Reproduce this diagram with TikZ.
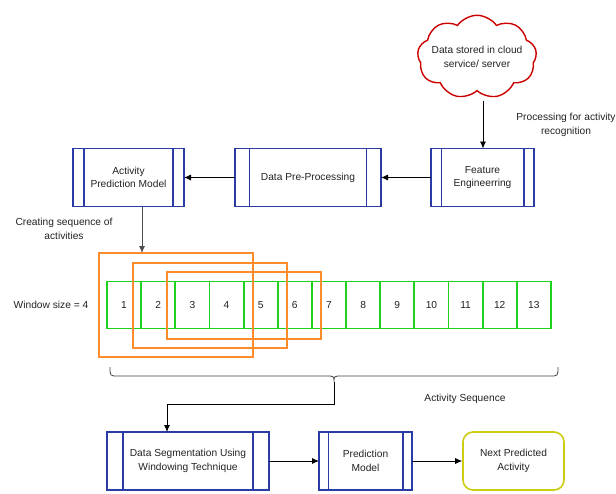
\documentclass[tikz,border=0pt]{standalone}
\usepackage{fontspec}
\setmainfont{Liberation Sans}
\usetikzlibrary{shapes.symbols,arrows.meta,calc}
\definecolor{boxblue}{HTML}{2B3BA6}
\definecolor{cellgreen}{HTML}{1ED21E}
\definecolor{winorange}{HTML}{FF8C2A}
\definecolor{cloudred}{HTML}{CC0000}
\definecolor{predyellow}{HTML}{CCCC11}
\definecolor{txt}{HTML}{222222}
\begin{document}
\begin{tikzpicture}[x=1pt,y=-1pt,
  every node/.style={font=\fontsize{10.2}{13.5}\selectfont, text=txt},
  procbox/.style={draw=boxblue, line width=1.6pt, rectangle, inner sep=0pt, outer sep=0pt, minimum height=58pt, align=center},
  cellbox/.style={draw=cellgreen, line width=1.9pt, rectangle, inner sep=0pt, outer sep=0pt, minimum width=34.15pt, minimum height=47pt},
  winbox/.style={draw=winorange, line width=1.4pt, rectangle, inner sep=0pt, outer sep=0pt},
  arr/.style={draw=black, line width=0.8pt, -{Latex[length=7pt,width=6pt]}},
  plain/.style={draw=black!75, line width=0.8pt},
  lbl/.style={align=center}]
\useasboundingbox (0,0) rectangle (616,493);

% cloud
\node[cloud, cloud puffs=9, cloud puff arc=110, aspect=1.7, draw=cloudred, line width=1.4pt,
      inner xsep=-5pt, inner ysep=-4.5pt, align=center] (cl) at (477,57)
      {Data stored in cloud\\service/ server};

% process boxes
\node[procbox, minimum width=103pt] (fe) at (482.5,177.5) {Feature\\Engineerring};
\node[procbox, minimum width=146pt] (dp) at (308,177.5) {Data Pre-Processing};
\node[procbox, minimum width=111pt] (apm) at (128.5,177.5) {Activity\\Prediction Model};
\node[procbox, minimum width=162pt] (ds) at (188,461) {Data Segmentation Using\\Windowing Technique};
\node[procbox, minimum width=93pt] (pm) at (365.5,461) {Prediction\\Model};
\node[draw=predyellow, line width=1.6pt, rounded corners=10pt, rectangle, inner sep=0pt,
      minimum width=101pt, minimum height=58pt, align=center] (na) at (513.5,461) {Next Predicted\\Activity};

\foreach \n in {fe,dp,apm,ds,pm}{
  \draw[boxblue, line width=1.6pt] ($(\n.north west)!0.1!(\n.north east)$) -- ($(\n.south west)!0.1!(\n.south east)$);
  \draw[boxblue, line width=1.6pt] ($(\n.north west)!0.9!(\n.north east)$) -- ($(\n.south west)!0.9!(\n.south east)$);
}

% activity cells
\foreach \i in {1,...,13}{
  \node[cellbox] (c\i) at ({107+34.15*(\i-0.5)},305) {\i};
}

% windows
\node[winbox, minimum width=154pt, minimum height=104pt] (w1) at (176,305) {};
\node[winbox, minimum width=154pt, minimum height=85pt] (w2) at (210,305.5) {};
\node[winbox, minimum width=154pt, minimum height=67pt] (w3) at (244,305.5) {};

% labels
\node[lbl] (t1) at (566,125) {Processing for activity\\recognition};
\node[lbl] (t2) at (64,229) {Creating sequence of\\activities};
\node (t3) at (51,305) {Window size = 4};
\node (t4) at (465,399) {Activity Sequence};

% connectors
\coordinate (cs) at (483,101);
\draw[arr] (cs) -- (cs |- fe.north);
\draw[arr] (fe.west) -- (dp.east);
\draw[arr] (dp.west) -- (apm.east);
\coordinate (ax) at (142,0);
\draw[arr, draw=black!70] (apm.south -| ax) -- (w1.north -| ax);
\draw[arr] (ds.east) -- (pm.west);
\draw[arr] (pm.east) -- (na.west);

% brace
\coordinate (bt) at (334,382);
\draw[plain] (110,367) .. controls (110,376) .. (118,376) -- (326,376)
  .. controls (334,376) .. (bt) .. controls (334,376) .. (342,376) -- (550,376)
  .. controls (558,376) .. (558,367);
\coordinate (k) at (167,404);
\draw[arr] (bt) |- (k) -- (ds.north -| k);
\end{tikzpicture}
\end{document}
